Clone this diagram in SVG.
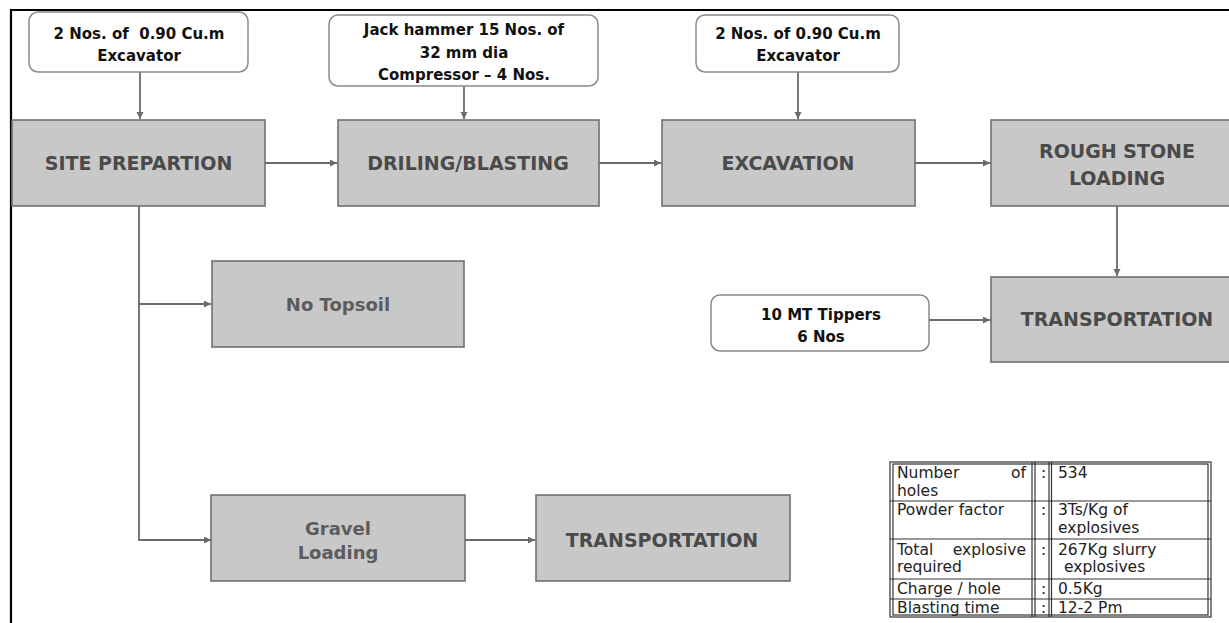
<svg xmlns="http://www.w3.org/2000/svg" width="1229" height="623" viewBox="0 0 1229 623">
<style>
.gbox{fill:#c8c8c8;stroke:#707070;stroke-width:1.6}
.wbox{fill:#ffffff;stroke:#8a8a8a;stroke-width:1.5}
.gt{font-family:"DejaVu Sans",Verdana,sans-serif;font-weight:bold;font-size:19px;fill:#4a4a4a;text-anchor:middle}
.gt2{font-family:"DejaVu Sans",Verdana,sans-serif;font-weight:bold;font-size:18px;fill:#5c5c5c;text-anchor:middle}
.wt{font-family:"DejaVu Sans",Verdana,sans-serif;font-weight:bold;font-size:15px;fill:#111;text-anchor:middle}
.tt{font-family:"DejaVu Sans",Verdana,sans-serif;font-size:15.5px;fill:#222}
.con{fill:none;stroke:#6a6a6a;stroke-width:1.8}
.tl{stroke:#333;stroke-width:1.2;fill:none}
</style>
<defs>
<marker id="ah" markerUnits="userSpaceOnUse" markerWidth="8" markerHeight="8" refX="7" refY="3.5" orient="auto">
<path d="M0,0 L7,3.5 L0,7 z" fill="#6a6a6a"/>
</marker>
</defs>
<rect width="1229" height="623" fill="#ffffff"/>
<g id="frame">
<path d="M11,623 V10 H1229" fill="none" stroke="#000" stroke-width="2.2"/>
</g>
<g id="connectors">
<path class="con" d="M140,72 V119" marker-end="url(#ah)"/>
<path class="con" d="M464,86 V119" marker-end="url(#ah)"/>
<path class="con" d="M798,72 V119" marker-end="url(#ah)"/>
<path class="con" d="M265,163 H337" marker-end="url(#ah)"/>
<path class="con" d="M599,163 H661" marker-end="url(#ah)"/>
<path class="con" d="M915,163 H990" marker-end="url(#ah)"/>
<path class="con" d="M1117,206 V276" marker-end="url(#ah)"/>
<path class="con" d="M929,320 H990" marker-end="url(#ah)"/>
<path class="con" d="M139,206 V540 H211" marker-end="url(#ah)"/>
<path class="con" d="M139,304 H211" marker-end="url(#ah)"/>
<path class="con" d="M465,540 H535" marker-end="url(#ah)"/>
</g>
<g id="n-equip1">
<rect class="wbox" x="29" y="12" width="219" height="60" rx="9"/>
<text class="wt" x="139" y="39" xml:space="preserve">2 Nos. of  0.90 Cu.m</text>
<text class="wt" x="139" y="61">Excavator</text>
</g>
<g id="n-equip2">
<rect class="wbox" x="329" y="15" width="269" height="71" rx="9"/>
<text class="wt" x="464" y="35">Jack hammer 15 Nos. of</text>
<text class="wt" x="464" y="58">32 mm dia</text>
<text class="wt" x="464" y="80">Compressor – 4 Nos.</text>
</g>
<g id="n-equip3">
<rect class="wbox" x="696" y="15" width="203" height="57" rx="9"/>
<text class="wt" x="798" y="39">2 Nos. of 0.90 Cu.m</text>
<text class="wt" x="798" y="61">Excavator</text>
</g>
<g id="n-site">
<rect class="gbox" x="12" y="120" width="253" height="86"/>
<text class="gt" x="138.5" y="170">SITE PREPARTION</text>
</g>
<g id="n-drill">
<rect class="gbox" x="338" y="120" width="261" height="86"/>
<text class="gt" x="468" y="170">DRILING/BLASTING</text>
</g>
<g id="n-exc">
<rect class="gbox" x="662" y="120" width="253" height="86"/>
<text class="gt" x="788" y="170">EXCAVATION</text>
</g>
<g id="n-rough">
<rect class="gbox" x="991" y="120" width="254" height="86"/>
<text class="gt" x="1117" y="158">ROUGH STONE</text>
<text class="gt" x="1117" y="185">LOADING</text>
</g>
<g id="n-tippers">
<rect class="wbox" x="711" y="295" width="218" height="56" rx="9"/>
<text class="wt" x="821" y="320">10 MT Tippers</text>
<text class="wt" x="821" y="342">6 Nos</text>
</g>
<g id="n-trans1">
<rect class="gbox" x="991" y="277" width="254" height="85"/>
<text class="gt" x="1117" y="326">TRANSPORTATION</text>
</g>
<g id="n-topsoil">
<rect class="gbox" x="212" y="261" width="252" height="86"/>
<text class="gt2" x="338" y="311">No Topsoil</text>
</g>
<g id="n-gravel">
<rect class="gbox" x="211" y="495" width="254" height="86"/>
<text class="gt2" x="338" y="535">Gravel</text>
<text class="gt2" x="338" y="559">Loading</text>
</g>
<g id="n-trans2">
<rect class="gbox" x="536" y="495" width="254" height="86"/>
<text class="gt" x="662" y="547">TRANSPORTATION</text>
</g>
<g id="table">
<rect class="tl" x="890" y="462" width="321" height="155"/>
<rect class="tl" x="893" y="464" width="315" height="151"/>
<line class="tl" x1="890" y1="501" x2="1211" y2="501"/>
<line class="tl" x1="890" y1="539" x2="1211" y2="539"/>
<line class="tl" x1="890" y1="579" x2="1211" y2="579"/>
<line class="tl" x1="890" y1="599" x2="1211" y2="599"/>
<line class="tl" x1="1032" y1="462" x2="1032" y2="617"/>
<line class="tl" x1="1035" y1="462" x2="1035" y2="617"/>
<line class="tl" x1="1049" y1="462" x2="1049" y2="617"/>
<line class="tl" x1="1051.5" y1="462" x2="1051.5" y2="617"/>
<text class="tt" x="897" y="478">Number</text>
<text class="tt" x="1026" y="478" text-anchor="end">of</text>
<text class="tt" x="897" y="496">holes</text>
<text class="tt" x="1041" y="478">:</text>
<text class="tt" x="1058" y="478">534</text>
<text class="tt" x="897" y="515">Powder factor</text>
<text class="tt" x="1041" y="515">:</text>
<text class="tt" x="1058" y="515">3Ts/Kg of</text>
<text class="tt" x="1058" y="533">explosives</text>
<text class="tt" x="897" y="555">Total</text>
<text class="tt" x="1026" y="555" text-anchor="end">explosive</text>
<text class="tt" x="897" y="572">required</text>
<text class="tt" x="1041" y="555">:</text>
<text class="tt" x="1058" y="555">267Kg slurry</text>
<text class="tt" x="1064" y="572">explosives</text>
<text class="tt" x="897" y="594">Charge / hole</text>
<text class="tt" x="1041" y="594">:</text>
<text class="tt" x="1058" y="594">0.5Kg</text>
<text class="tt" x="897" y="613">Blasting time</text>
<text class="tt" x="1041" y="613">:</text>
<text class="tt" x="1058" y="613">12-2 Pm</text>
</g>
</svg>
